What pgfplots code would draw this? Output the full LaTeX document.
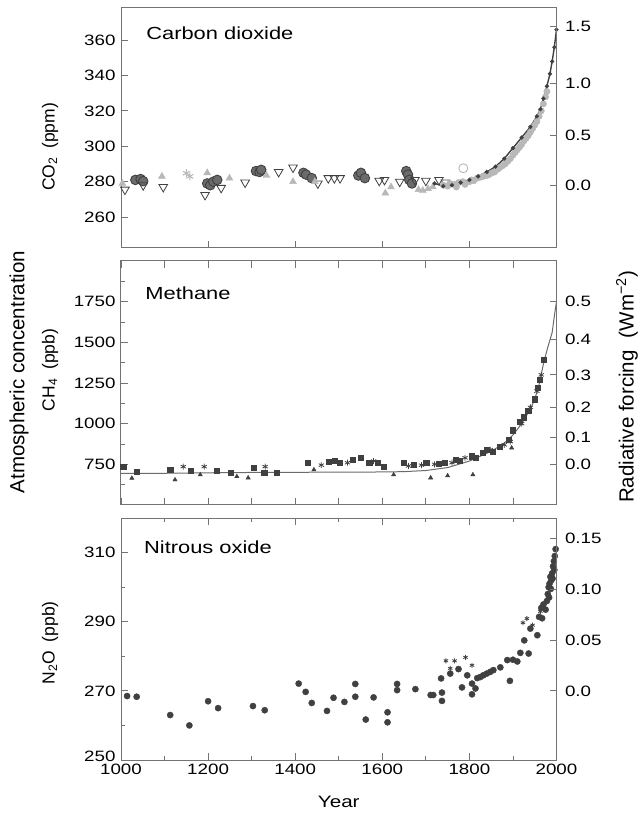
\documentclass[border=0pt]{standalone}
\usepackage{pgfplots}
\pgfplotsset{compat=1.18}
\usepackage{fontspec}
\setmainfont{Liberation Sans}[FakeStretch=1.25]
\newfontfamily\plainsans{Liberation Sans}
\definecolor{frm}{gray}{0.45}
\definecolor{dk}{gray}{0.25}
\definecolor{md}{gray}{0.42}
\definecolor{lt}{gray}{0.72}
\tikzset{ttl/.style={anchor=west, font=\fontsize{17.5}{17.5}\selectfont}}
\begin{document}
\begin{tikzpicture}
\useasboundingbox (0pt,0pt) rectangle (643pt,814pt);
\pgfplotsset{
  base/.style={scale only axis, width=435.5pt, anchor=south west,
    xmin=1000, xmax=2000,
    axis line style={frm, line width=1pt},
    tick style={frm, line width=0.9pt},
    major tick length=7pt, minor tick length=4pt,
    tick label style={font=\fontsize{15}{15}\selectfont},
    /pgf/number format/assume math mode=true,
    /pgf/number format/1000 sep={},
  },
  panel/.style={base, ytick pos=left, xtick={1000,1100,...,2000}, xticklabels={},
    yticklabel style={xshift=-2pt}, clip=true},
  rightax/.style={base, axis y line*=right, axis x line=none,
    yticklabel style={xshift=5pt}},
}
% ---------------- Carbon dioxide ----------------
\begin{axis}[panel, at={(121pt,566pt)}, height=240.5pt, ymin=242.5, ymax=378.5,
  ytick={260,280,...,360}, xtick={1200,1400,1600,1800}, xtick pos=bottom]
\addplot[only marks, mark=*, mark size=4.8pt, mark options={fill=md, draw=dk, line width=0.9pt}] coordinates {
(1033,281)(1045,281.5)(1051,280.3)(1198,279)(1205,278)(1212,280)(1221,281)
(1310,286)(1318,285.5)(1322,286.7)(1419,285)(1425,284)(1438,282)
(1545,283.5)(1551,285)(1560,282)(1655,286)(1659,284)(1662,281)(1668,279)};
\addplot[only marks, mark=triangle, mark size=5pt, mark options={rotate=180, draw=dk, fill=white, line width=0.8pt}] coordinates {
(1009,275.5)(1051,278)(1097,277)(1193,272.5)(1230,276.5)(1285,279.5)(1362,285.5)(1395,288)
(1452,279)(1476,282)(1490,282)(1503,282)(1593,280.5)(1605,281)(1640,280)(1675,281)(1700,280.5)(1730,281)(1745,279.5)};
\addplot[only marks, mark=triangle*, mark size=4pt, mark options={fill=lt, draw=lt}] coordinates {
(1003,279)(1094,283)(1198,285)(1249,282)(1334,283.5)(1395,280)(1445,280)(1607,273.5)
(1620,277)(1683,275.5)(1693,275)(1705,276)(1716,277)};
\addplot[only marks, mark=asterisk, mark size=4pt, mark options={draw=lt, line width=1pt}] coordinates {
(1150,284.8)(1158,283)};
\addplot[only marks, mark=*, mark size=3.2pt, mark options={fill=lt, draw=lt}] coordinates {
(1740,278)(1750,277.5)(1755,279)(1765,278.5)(1770,277)(1775,279.5)(1785,280)(1790,278.5)
(1800,280)(1805,281)(1810,280.5)(1818,282)(1825,282.5)(1832,283)(1840,283.5)(1845,284)
(1852,285)(1858,285.5)(1865,287)(1870,288)(1876,289)(1882,290)(1888,291.5)(1894,293)
(1900,295)(1905,296.5)(1910,298)(1915,299.5)(1920,301)(1925,303)(1930,304.5)(1935,306)
(1940,308)(1945,310)(1950,312)(1955,314)(1960,317)(1965,320)(1970,324)(1975,328)(1978,331)};
\addplot[only marks, mark=o, mark size=4.5pt, mark options={draw=lt, line width=0.9pt}] coordinates {(1786,287.6)};
\addplot[dk, line width=1.4pt, mark=*, mark size=1.3pt] coordinates {
(1720,279)(1740,277.5)(1760,278)(1780,279.5)(1800,281)(1820,283)(1840,285.5)(1860,288.5)
(1880,293)(1900,299)(1920,305)(1940,311)(1955,317)(1963,321)(1970,327)(1978,334)
(1985,341)(1990,348)(1995,356)(2000,366)};
\node[ttl] at (rel axis cs:0.05,0.894) {Carbon dioxide};
\end{axis}
\begin{axis}[rightax, at={(121pt,566pt)}, height=240.5pt, ymin=242.5, ymax=378.5,
  ytick={278,306,335.6,368}, yticklabels={0.0,0.5,1.0,1.5}]
\addplot[draw=none] coordinates {(1500,300)};
\end{axis}
% ---------------- Methane ----------------
\begin{axis}[panel, at={(121pt,309pt)}, height=244pt, ymin=500, ymax=2000,
  ytick={750,1000,...,1750}, minor ytick={625,875,1125,1375,1625,1875}]
\addplot[md, line width=1pt] coordinates {
(1000,695)(1100,695)(1200,698)(1300,700)(1400,701)(1500,702)(1600,703)(1650,705)(1700,712)
(1750,730)(1800,770)(1850,830)(1880,880)(1900,930)(1920,1000)(1940,1090)(1950,1150)
(1960,1240)(1971,1380)(1980,1470)(1990,1560)(1996,1680)(2000,1750)};
\addplot[only marks, mark=square*, mark size=2.6pt, mark options={fill=dk, draw=dk}] coordinates {
(1005,736)(1036,706)(1113,716)(1160,712)(1220,710)(1251,698)(1304,727)(1329,698)(1358,698)
(1428,759)(1476,767)(1490,770)(1503,760)(1532,778)(1551,790)(1570,759)(1590,760)(1603,736)
(1650,759)(1673,750)(1701,759)(1730,755)(1744,759)(1768,778)(1777,770)(1805,800)(1815,790)
(1830,820)(1840,840)(1853,830)(1870,860)(1890,900)(1900,960)(1915,1010)(1925,1040)(1935,1080)
(1950,1150)(1956,1220)(1962,1270)(1971,1392)};
\addplot[only marks, mark=triangle*, mark size=2.5pt, mark options={fill=dk, draw=dk}] coordinates {
(1025,665)(1124,655)(1182,686)(1266,675)(1292,667)(1443,717)(1626,686)(1711,667)(1750,680)(1808,686)(1897,851)};
\addplot[only marks, mark=asterisk, mark size=3pt, mark options={draw=dk, line width=0.8pt}] coordinates {
(1143,736)(1191,736)(1331,736)(1460,745)(1520,760)(1580,770)(1660,740)(1690,745)(1720,750)
(1760,760)(1790,790)(1848,840)(1880,870)(1894,890)(1920,1000)(1940,1100)(1955,1200)(1965,1300)};
\node[ttl] at (rel axis cs:0.048,0.869) {Methane};
\end{axis}
\begin{axis}[rightax, at={(121pt,309pt)}, height=244pt, ymin=500, ymax=2000,
  ytick={750,916.6,1100,1300,1516.6,1750}, yticklabels={0.0,0.1,0.2,0.3,0.4,0.5}]
\addplot[draw=none] coordinates {(1500,1000)};
\end{axis}
% ---------------- Nitrous oxide ----------------
\begin{axis}[panel, at={(121pt,54pt)}, height=242pt, ymin=250, ymax=320,
  ytick={250,270,290,310}, yticklabels={\raisebox{-1pt}[0pt][0pt]{250},270,290,310},
  minor ytick={260,280,300},
  xtick={1000,1200,...,2000}, minor xtick={1100,1300,...,1900},
  xticklabels={1000,1200,1400,1600,1800,2000},
  xlabel={Year}, xlabel style={font=\fontsize{16.5}{16.5}\selectfont, yshift=-15pt}]
\addplot[only marks, mark=*, mark size=3.1pt, mark options={fill=dk, draw=dk}] coordinates {
(1014,268.5)(1036,268.3)(1113,263)(1157,260)(1200,267)(1223,265)(1303,265.6)(1330,264.4)
(1408,272.1)(1424,269.7)(1438,266.5)(1473,264.2)(1488,268)(1513,266.8)(1538,272)(1538,268.3)
(1562,261.7)(1580,268.1)(1612,263.8)(1612,260.9)(1634,272)(1634,270.2)(1676,270.5)(1711,268.8)
(1717,268.8)(1737,269.5)(1737,267.1)(1735,273.6)(1756,275)(1775,276.3)(1783,271)(1795,274.5)
(1806,272.1)(1806,269)(1814,270.7)(1818,273.7)(1825,274)(1832,274.5)(1840,275)(1848,275.5)
(1855,276)(1871,276.8)(1893,272.9)(1887,278.9)(1900,279)(1910,278.5)(1917,281)(1926,284.6)
(1936,280.8)(1940,288)(1956,286.1)(1960,291.4)(1967,291)(1965,294)(1970,295)(1975,293.5)
(1978,296)(1980,298)(1982,300)(1984,301)(1986,303)(1988,302)(1990,304)(1992,306)
(1994,307.5)(1996,309)(1998,311)(1983,297)(1987,299.5)(1991,302.5)(1995,305)};
\addplot[only marks, mark=asterisk, mark size=2.5pt, mark options={draw=dk, line width=0.8pt}] coordinates {
(1746,278.7)(1766,278.7)(1791,279.7)(1806,277.4)(1756,276.5)(1923,289.7)(1932,290.9)(1945,289)(1963,293)};
\node[ttl] at (rel axis cs:0.045,0.88) {Nitrous oxide};
\end{axis}
\begin{axis}[rightax, at={(121pt,54pt)}, height=242pt, ymin=250, ymax=320,
  ytick={270,284.7,299.4,314.2}, yticklabels={0.0,0.05,0.10,0.15}]
\addplot[draw=none] coordinates {(1500,280)};
\end{axis}
% ---------------- labels ----------------
\node[rotate=90, font=\plainsans\fontsize{17.5}{17.5}\selectfont] at (50pt,667pt) {CO\textsubscript{2}\hspace{0.5em}(ppm)};
\node[rotate=90, font=\plainsans\fontsize{17.5}{17.5}\selectfont] at (50pt,444pt) {CH\textsubscript{4}\hspace{0.5em}(ppb)};
\node[rotate=90, font=\plainsans\fontsize{17.5}{17.5}\selectfont] at (50pt,171pt) {N\textsubscript{2}O\hspace{0.5em}(ppb)};
\node[rotate=90, font=\plainsans\fontsize{20.5}{20.5}\selectfont] at (19pt,442pt) {Atmospheric concentration};
\node[rotate=90, font=\plainsans\fontsize{20.5}{20.5}\selectfont] at (627pt,427pt) {Radiative forcing\hspace{0.6em}(Wm\textsuperscript{−2})};
\end{tikzpicture}
\end{document}
